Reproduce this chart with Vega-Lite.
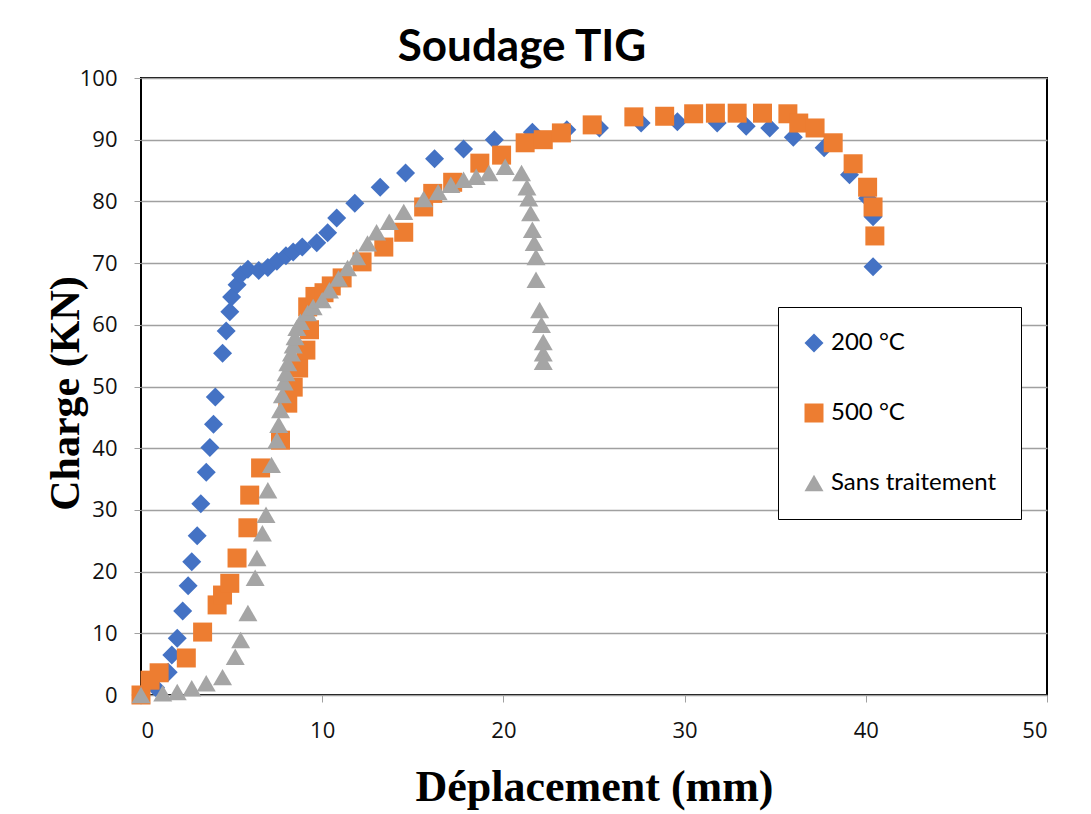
{
  "$schema": "https://vega.github.io/schema/vega-lite/v6.json",
  "autosize": {"type": "none"},
  "width": 906,
  "height": 617,
  "padding": {"left": 141, "top": 78, "right": 44, "bottom": 119},
  "background": "white",
  "title": {"text": "Soudage TIG", "font": "Lato", "fontSize": 44, "fontWeight": "bold", "color": "black", "anchor": "middle", "dx": -72, "offset": -38, "baseline": "alphabetic"},
  "config": {
    "view": {"stroke": "black", "strokeWidth": 2},
    "axis": {"labelFont": "Open Sans", "labelFontSize": 22, "labelColor": "#111", "tickColor": "#a0a0a0", "tickSize": 7, "domain": false}
  },
  "data": {"values": [
    {"s":"200 °C","x":0,"y":0},{"s":"200 °C","x":0.8,"y":1.2},{"s":"200 °C","x":1.5,"y":3.7},{"s":"200 °C","x":1.7,"y":6.5},{"s":"200 °C","x":2.0,"y":9.2},{"s":"200 °C","x":2.3,"y":13.6},{"s":"200 °C","x":2.6,"y":17.7},{"s":"200 °C","x":2.8,"y":21.6},{"s":"200 °C","x":3.1,"y":25.8},{"s":"200 °C","x":3.3,"y":31.0},{"s":"200 °C","x":3.6,"y":36.1},{"s":"200 °C","x":3.8,"y":40.1},{"s":"200 °C","x":4.0,"y":43.9},{"s":"200 °C","x":4.1,"y":48.3},{"s":"200 °C","x":4.5,"y":55.4},{"s":"200 °C","x":4.7,"y":59.0},{"s":"200 °C","x":4.9,"y":62.1},{"s":"200 °C","x":5.0,"y":64.5},{"s":"200 °C","x":5.3,"y":66.5},{"s":"200 °C","x":5.5,"y":68.1},{"s":"200 °C","x":5.9,"y":69.0},{"s":"200 °C","x":6.5,"y":68.8},{"s":"200 °C","x":7.0,"y":69.3},{"s":"200 °C","x":7.5,"y":70.3},{"s":"200 °C","x":8.0,"y":71.2},{"s":"200 °C","x":8.4,"y":71.8},{"s":"200 °C","x":8.9,"y":72.6},{"s":"200 °C","x":9.7,"y":73.3},{"s":"200 °C","x":10.3,"y":74.9},{"s":"200 °C","x":10.8,"y":77.3},{"s":"200 °C","x":11.8,"y":79.7},{"s":"200 °C","x":13.2,"y":82.3},{"s":"200 °C","x":14.6,"y":84.6},{"s":"200 °C","x":16.2,"y":86.9},{"s":"200 °C","x":17.8,"y":88.5},{"s":"200 °C","x":19.5,"y":90.0},{"s":"200 °C","x":21.6,"y":91.2},{"s":"200 °C","x":23.5,"y":91.6},{"s":"200 °C","x":25.3,"y":91.9},{"s":"200 °C","x":27.6,"y":92.7},{"s":"200 °C","x":29.6,"y":92.9},{"s":"200 °C","x":31.8,"y":92.7},{"s":"200 °C","x":33.4,"y":92.2},{"s":"200 °C","x":34.7,"y":91.9},{"s":"200 °C","x":36.0,"y":90.4},{"s":"200 °C","x":37.7,"y":88.7},{"s":"200 °C","x":39.1,"y":84.3},{"s":"200 °C","x":40.1,"y":80.5},{"s":"200 °C","x":40.4,"y":77.5},{"s":"200 °C","x":40.4,"y":69.4},
    {"s":"500 °C","x":0,"y":0},{"s":"500 °C","x":0.5,"y":2.4},{"s":"500 °C","x":1.0,"y":3.6},{"s":"500 °C","x":2.5,"y":6.0},{"s":"500 °C","x":3.4,"y":10.2},{"s":"500 °C","x":4.2,"y":14.6},{"s":"500 °C","x":4.5,"y":16.2},{"s":"500 °C","x":4.9,"y":18.1},{"s":"500 °C","x":5.3,"y":22.2},{"s":"500 °C","x":5.9,"y":27.1},{"s":"500 °C","x":6.0,"y":32.4},{"s":"500 °C","x":6.6,"y":36.8},{"s":"500 °C","x":7.7,"y":41.3},{"s":"500 °C","x":8.1,"y":47.3},{"s":"500 °C","x":8.4,"y":49.9},{"s":"500 °C","x":8.7,"y":53.0},{"s":"500 °C","x":9.1,"y":55.9},{"s":"500 °C","x":9.3,"y":59.2},{"s":"500 °C","x":9.2,"y":62.9},{"s":"500 °C","x":9.6,"y":64.6},{"s":"500 °C","x":10.1,"y":65.2},{"s":"500 °C","x":10.5,"y":66.3},{"s":"500 °C","x":11.1,"y":67.6},{"s":"500 °C","x":12.2,"y":70.2},{"s":"500 °C","x":13.4,"y":72.6},{"s":"500 °C","x":14.5,"y":75.0},{"s":"500 °C","x":15.6,"y":79.1},{"s":"500 °C","x":16.1,"y":81.3},{"s":"500 °C","x":17.2,"y":83.1},{"s":"500 °C","x":18.7,"y":86.2},{"s":"500 °C","x":19.9,"y":87.5},{"s":"500 °C","x":21.2,"y":89.5},{"s":"500 °C","x":22.2,"y":90.0},{"s":"500 °C","x":23.2,"y":91.1},{"s":"500 °C","x":24.9,"y":92.4},{"s":"500 °C","x":27.2,"y":93.7},{"s":"500 °C","x":28.9,"y":93.8},{"s":"500 °C","x":30.5,"y":94.2},{"s":"500 °C","x":31.7,"y":94.3},{"s":"500 °C","x":32.9,"y":94.3},{"s":"500 °C","x":34.3,"y":94.3},{"s":"500 °C","x":35.7,"y":94.2},{"s":"500 °C","x":36.3,"y":92.7},{"s":"500 °C","x":37.2,"y":91.9},{"s":"500 °C","x":38.2,"y":89.5},{"s":"500 °C","x":39.3,"y":86.1},{"s":"500 °C","x":40.1,"y":82.3},{"s":"500 °C","x":40.4,"y":79.1},{"s":"500 °C","x":40.5,"y":74.4},
    {"s":"Sans traitement","x":0,"y":0},{"s":"Sans traitement","x":1.2,"y":0.3},{"s":"Sans traitement","x":2.0,"y":0.5},{"s":"Sans traitement","x":2.8,"y":1.1},{"s":"Sans traitement","x":3.6,"y":1.9},{"s":"Sans traitement","x":4.5,"y":2.9},{"s":"Sans traitement","x":5.2,"y":6.2},{"s":"Sans traitement","x":5.5,"y":8.9},{"s":"Sans traitement","x":5.9,"y":13.3},{"s":"Sans traitement","x":6.3,"y":19.0},{"s":"Sans traitement","x":6.4,"y":22.2},{"s":"Sans traitement","x":6.7,"y":26.2},{"s":"Sans traitement","x":6.9,"y":29.2},{"s":"Sans traitement","x":7.0,"y":33.2},{"s":"Sans traitement","x":7.2,"y":37.3},{"s":"Sans traitement","x":7.5,"y":41.3},{"s":"Sans traitement","x":7.6,"y":43.8},{"s":"Sans traitement","x":7.7,"y":46.2},{"s":"Sans traitement","x":7.8,"y":48.6},{"s":"Sans traitement","x":7.9,"y":50.7},{"s":"Sans traitement","x":8.0,"y":52.2},{"s":"Sans traitement","x":8.1,"y":53.8},{"s":"Sans traitement","x":8.3,"y":55.4},{"s":"Sans traitement","x":8.4,"y":56.7},{"s":"Sans traitement","x":8.5,"y":58.0},{"s":"Sans traitement","x":8.6,"y":59.5},{"s":"Sans traitement","x":8.8,"y":60.5},{"s":"Sans traitement","x":9.2,"y":61.9},{"s":"Sans traitement","x":9.5,"y":62.9},{"s":"Sans traitement","x":10.0,"y":64.0},{"s":"Sans traitement","x":10.4,"y":65.6},{"s":"Sans traitement","x":10.9,"y":67.5},{"s":"Sans traitement","x":11.4,"y":69.2},{"s":"Sans traitement","x":11.9,"y":71.0},{"s":"Sans traitement","x":12.5,"y":73.2},{"s":"Sans traitement","x":13.0,"y":75.0},{"s":"Sans traitement","x":13.7,"y":76.7},{"s":"Sans traitement","x":14.5,"y":78.3},{"s":"Sans traitement","x":15.6,"y":80.4},{"s":"Sans traitement","x":16.4,"y":81.5},{"s":"Sans traitement","x":17.1,"y":82.7},{"s":"Sans traitement","x":17.8,"y":83.5},{"s":"Sans traitement","x":18.5,"y":84.0},{"s":"Sans traitement","x":19.2,"y":84.6},{"s":"Sans traitement","x":20.1,"y":85.6},{"s":"Sans traitement","x":21.0,"y":84.6},{"s":"Sans traitement","x":21.3,"y":82.3},{"s":"Sans traitement","x":21.4,"y":80.5},{"s":"Sans traitement","x":21.5,"y":78.1},{"s":"Sans traitement","x":21.6,"y":75.4},{"s":"Sans traitement","x":21.7,"y":73.3},{"s":"Sans traitement","x":21.8,"y":71.0},{"s":"Sans traitement","x":21.8,"y":67.3},{"s":"Sans traitement","x":22.0,"y":62.4},{"s":"Sans traitement","x":22.1,"y":60.0},{"s":"Sans traitement","x":22.2,"y":57.2},{"s":"Sans traitement","x":22.2,"y":55.4},{"s":"Sans traitement","x":22.2,"y":54.0}
  ]},
  "mark": {"type": "point", "filled": true, "opacity": 1, "strokeWidth": 0},
  "encoding": {
    "x": {"field": "x", "type": "quantitative", "scale": {"domain": [0, 50], "nice": false, "zero": false},
      "axis": {"values": [0, 10, 20, 30, 40, 50], "grid": false, "labelPadding": 18, "title": "Déplacement (mm)", "titleFont": "Liberation Serif", "titleFontSize": 44, "titleFontWeight": "bold", "titleColor": "black", "titleBaseline": "alphabetic", "titleY": 105}},
    "y": {"field": "y", "type": "quantitative", "scale": {"domain": [0, 100], "nice": false},
      "axis": {"values": [0, 10, 20, 30, 40, 50, 60, 70, 80, 90, 100], "grid": true, "gridColor": "#a0a0a0", "gridWidth": 1.5, "labelPadding": 17, "title": "Charge (KN)", "titleFont": "Liberation Serif", "titleFontSize": 42, "titleFontWeight": "bold", "titleColor": "black", "titleBaseline": "alphabetic", "titleX": -63, "titleY": 315}},
    "color": {"field": "s", "type": "nominal", "scale": {"domain": ["200 °C", "500 °C", "Sans traitement"], "range": ["#4472C4", "#ED7D31", "#A5A5A5"]},
      "legend": {"orient": "none", "legendX": 637, "legendY": 229, "title": null, "padding": 24, "rowPadding": 46, "symbolSize": 289, "labelFont": "Lato", "labelFontSize": 24, "labelLimit": 300, "labelColor": "black", "labelOffset": 5, "symbolStrokeWidth": 0, "strokeColor": "black", "fillColor": "white",
        "encode": {"legend": {"update": {"strokeWidth": {"value": 2}}}}}},
    "shape": {"field": "s", "type": "nominal", "scale": {"domain": ["200 °C", "500 °C", "Sans traitement"], "range": ["diamond", "square", "triangle-up"]}},
    "size": {"field": "s", "type": "nominal", "scale": {"domain": ["200 °C", "500 °C", "Sans traitement"], "range": [361, 361, 500]}, "legend": null}
  }
}
